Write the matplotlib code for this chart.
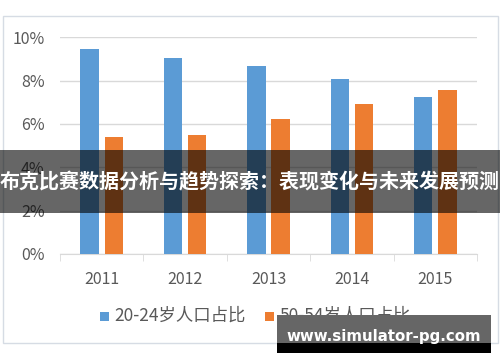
import numpy as np
import matplotlib
matplotlib.use("Agg")
import matplotlib.pyplot as plt
from matplotlib.patches import Rectangle

years = ["2011", "2012", "2013", "2014", "2015"]
young = [9.45, 9.03, 8.69, 8.06, 7.26]
older = [5.41, 5.49, 6.22, 6.91, 7.57]
labels = ["20-24岁人口占比", "50-54岁人口占比"]
title = "布克比赛数据分析与趋势探索：表现变化与未来发展预测"
site = "www.simulator-pg.com"

plt.rcParams['font.family'] = ['Noto Sans CJK SC', 'DejaVu Sans']

W, H = 500, 362
fig = plt.figure(figsize=(W / 100, H / 100), dpi=100)
fig.patch.set_facecolor("white")

# chart frame
fig.patches.append(Rectangle((3 / W, 1 - 343 / H), 495 / W, 327 / H, transform=fig.transFigure,
                             facecolor="white", edgecolor="#d6dce4", lw=1, zorder=-1))

ax = fig.add_axes([60 / W, 1 - 254 / H, 417 / W, 216.7 / H])
ax.set_zorder(1)
x = np.arange(len(years))
ax.bar(x - 0.145, young, width=0.22, color="#5b9bd5", zorder=3)
ax.bar(x + 0.145, older, width=0.22, color="#ed7d31", zorder=3)
ax.set_xlim(-0.5, len(years) - 0.5)
ax.set_ylim(0, 10)
ax.set_yticks([0, 2, 4, 6, 8, 10])
ax.set_yticklabels([f"{v}%" for v in [0, 2, 4, 6, 8, 10]], fontsize=11.5, color="#595959")
ax.set_xticks(x)
ax.set_xticklabels(years, fontsize=11.5, color="#595959")
ax.set_xticks(np.arange(-0.5, len(years)), minor=True)
ax.tick_params(axis="x", which="major", length=0, pad=12)
ax.tick_params(axis="x", which="minor", length=5, color="#d9d9d9")
ax.tick_params(axis="y", length=0, pad=11)
ax.grid(axis="y", color="#d9d9d9", lw=1, zorder=0)
for s in ["top", "right", "left"]:
    ax.spines[s].set_visible(False)
ax.spines["bottom"].set_color("#d9d9d9")
ax.set_facecolor("none")

# legend
for i, (lab, c) in enumerate(zip(labels, ["#5b9bd5", "#ed7d31"])):
    x0 = [100, 265][i]
    fig.patches.append(Rectangle((x0 / W, 1 - 320.5 / H), 9 / W, 9 / H, transform=fig.transFigure,
                                 facecolor=c, edgecolor="none"))
    fig.text((x0 + 14) / W, 1 - 316 / H, lab, fontsize=12.5, color="#595959", va="center", ha="left")

# title banner and watermark sit above the axes
over = fig.add_axes([0, 0, 1, 1], zorder=10)
over.set_xlim(0, W)
over.set_ylim(H, 0)
over.axis("off")
over.add_patch(Rectangle((0, 150), W, 63, facecolor="black", alpha=0.6, edgecolor="none"))
over.text(W / 2, 182, title, fontsize=14.4, fontweight="bold", color="white",
          ha="center", va="center")
over.add_patch(Rectangle((277, 315), 214, 28, facecolor="#666666", edgecolor="none"))
over.add_patch(Rectangle((277, 343), 214, 10, facecolor="black", edgecolor="none"))
over.text(384, 336, site, fontsize=10.8, fontweight="bold", color="white",
          family="DejaVu Sans", ha="center", va="center")

fig.savefig("out.png", dpi=100)
